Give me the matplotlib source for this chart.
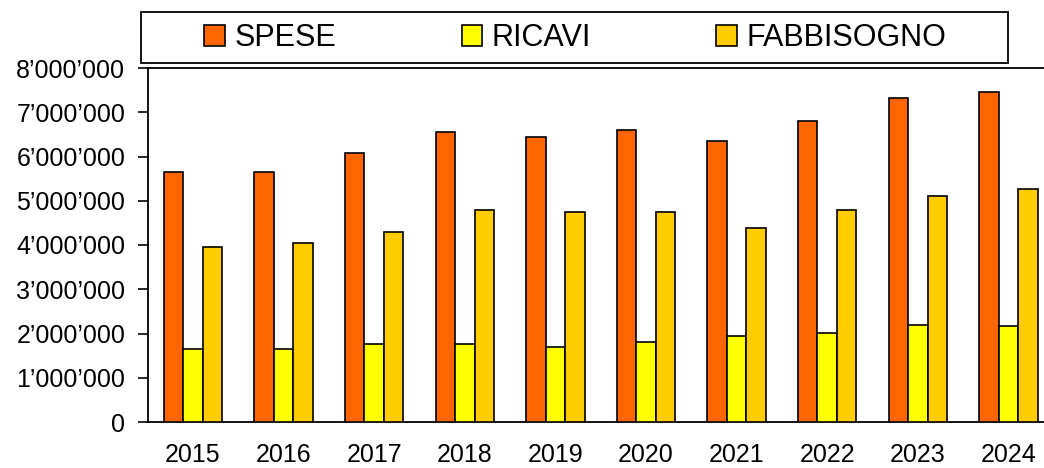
import numpy as np
import matplotlib
matplotlib.use("Agg")
import matplotlib.pyplot as plt
from matplotlib.patches import Rectangle
from matplotlib.ticker import FuncFormatter, MultipleLocator

plt.rcParams['font.family'] = ['Liberation Sans', 'DejaVu Sans']

# dati
anni = ["2015", "2016", "2017", "2018", "2019", "2020", "2021", "2022", "2023", "2024"]
spese = [5660000, 5660000, 6090000, 6560000, 6450000, 6590000, 6350000, 6810000, 7320000, 7460000]
ricavi = [1660000, 1660000, 1770000, 1770000, 1690000, 1800000, 1950000, 2020000, 2200000, 2170000]
fabbisogno = [3960000, 4040000, 4290000, 4790000, 4750000, 4750000, 4390000, 4790000, 5110000, 5260000]

serie = ["SPESE", "RICAVI", "FABBISOGNO"]
colori = ["#FF6600", "#FFFF00", "#FFCC00"]


def fmt(v, pos):
    return f"{int(round(v)):,}".replace(",", "\u2019")


def main():
    W, H = 1044, 468
    fig = plt.figure(figsize=(W / 100, H / 100), dpi=100)

    # asse: sinistra 147.7px, 0 a y=422, 8M a y=68, 90.6 px per categoria
    ax = fig.add_axes([147.7 / W, (H - 422) / H, 906 / W, 354 / H])

    x = np.arange(len(anni))
    w = 0.215
    for i, (vals, col, lab) in enumerate(zip([spese, ricavi, fabbisogno], colori, serie)):
        ax.bar(x + (i - 1) * w, vals, width=w, color=col, edgecolor="black",
               linewidth=1.2, label=lab, zorder=3)

    ax.set_xlim(-0.5, 9.5)
    ax.set_ylim(0, 8000000)
    ax.yaxis.set_major_locator(MultipleLocator(1000000))
    ax.yaxis.set_major_formatter(FuncFormatter(fmt))
    ax.set_xticks(x)
    ax.set_xticklabels(anni)

    ax.tick_params(axis="y", direction="out", length=7.2, width=1.2, pad=9, labelsize=18)
    ax.tick_params(axis="x", length=0, pad=15, labelsize=18)
    for s in ["left", "top", "bottom"]:
        ax.spines[s].set_linewidth(1.3)
        ax.spines[s].set_color("black")
    ax.spines["right"].set_visible(False)

    # legenda con riquadro
    handles, labels = ax.get_legend_handles_labels()
    fs = 22
    fpx = fs * 100 / 72
    fig.legend(handles, labels, loc="center", ncol=3, frameon=False,
               bbox_to_anchor=(575.5 / W, 1 - 38 / H),
               fontsize=fs, handlelength=20.5 / fpx, handleheight=20.5 / fpx,
               handletextpad=10 / fpx, columnspacing=125 / fpx, borderpad=0)
    box = Rectangle((141 / W, 1 - 63.3 / H), (1008.3 - 141) / W, (63.3 - 12.3) / H,
                    transform=fig.transFigure, fill=False, edgecolor="black", linewidth=1.3)
    fig.patches.append(box)

    fig.savefig("out.png", dpi=100)


if __name__ == '__main__':
    main()
